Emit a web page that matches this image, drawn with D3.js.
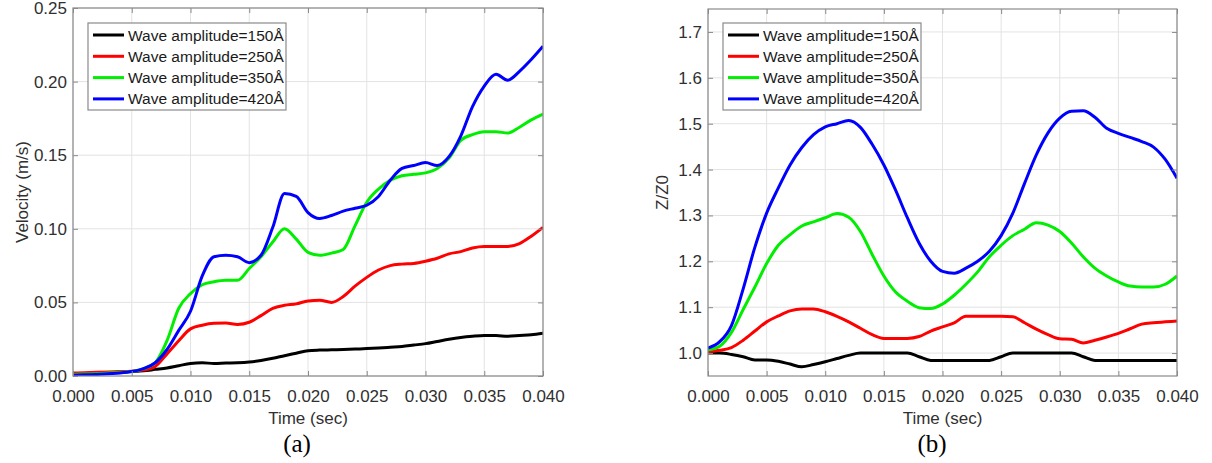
<!DOCTYPE html>
<html>
<head>
<meta charset="utf-8">
<script src="https://cdn.jsdelivr.net/npm/d3@7"></script>
<style>
  body { margin: 0; background: #fff; }
  text { font-family: Arial, "Liberation Sans", sans-serif; }
</style>
</head>
<body>
<svg id="chart" width="1212" height="463"></svg>
<script>
// time axis (sec), shared by both panels
const time = [0.000, 0.001, 0.002, 0.003, 0.004, 0.005, 0.006, 0.007, 0.008, 0.009,
              0.010, 0.011, 0.012, 0.013, 0.014, 0.015, 0.016, 0.017, 0.018, 0.019,
              0.020, 0.021, 0.022, 0.023, 0.024, 0.025, 0.026, 0.027, 0.028, 0.029,
              0.030, 0.031, 0.032, 0.033, 0.034, 0.035, 0.036, 0.037, 0.038, 0.039, 0.040];

const legendLabels = ["Wave amplitude=150Å", "Wave amplitude=250Å", "Wave amplitude=350Å", "Wave amplitude=420Å"];
const colors = ["#000000", "#ff0000", "#00ee00", "#0000ff"];

// (a) velocity (m/s)
const vel150 = [0.0015, 0.0017, 0.002, 0.0023, 0.0026, 0.003, 0.0035, 0.0045, 0.0055, 0.007,
                0.0085, 0.009, 0.0085, 0.0088, 0.009, 0.0095, 0.0105, 0.012, 0.0138, 0.0155,
                0.0172, 0.0176, 0.0178, 0.018, 0.0183, 0.0186, 0.019, 0.0195, 0.020, 0.021,
                0.022, 0.0235, 0.025, 0.0262, 0.027, 0.0275, 0.0275, 0.027, 0.0275, 0.028, 0.029];
const vel250 = [0.002, 0.0022, 0.0025, 0.0028, 0.003, 0.0033, 0.004, 0.0065, 0.015, 0.024,
                0.032, 0.0345, 0.0358, 0.036, 0.035, 0.0365, 0.041, 0.046, 0.048, 0.049,
                0.051, 0.0515, 0.050, 0.054, 0.061, 0.067, 0.072, 0.075, 0.076, 0.0765,
                0.078, 0.080, 0.083, 0.0845, 0.087, 0.088, 0.088, 0.088, 0.090, 0.095, 0.101];
const vel350 = [0.001, 0.0013, 0.0016, 0.002, 0.0025, 0.003, 0.005, 0.009, 0.024, 0.046,
                0.056, 0.062, 0.064, 0.065, 0.065, 0.073, 0.081, 0.091, 0.100, 0.093,
                0.084, 0.082, 0.0835, 0.086, 0.102, 0.118, 0.127, 0.133, 0.136, 0.137,
                0.138, 0.141, 0.148, 0.160, 0.164, 0.166, 0.166, 0.165, 0.169, 0.174, 0.178];
const vel420 = [0.0005, 0.0008, 0.001, 0.0015, 0.002, 0.003, 0.005, 0.009, 0.018, 0.031,
                0.044, 0.068, 0.081, 0.082, 0.081, 0.077, 0.082, 0.101, 0.124, 0.122,
                0.111, 0.107, 0.109, 0.112, 0.114, 0.116, 0.122, 0.133, 0.141, 0.143,
                0.145, 0.143, 0.149, 0.163, 0.183, 0.197, 0.205, 0.201, 0.207, 0.215, 0.224];

// (b) Z/Z0
const z150 = [1.000, 1.000, 0.997, 0.992, 0.985, 0.985, 0.982, 0.976, 0.970, 0.975,
              0.981, 0.988, 0.995, 1.000, 1.000, 1.000, 1.000, 1.000, 0.992, 0.984,
              0.984, 0.984, 0.984, 0.984, 0.984, 0.992, 1.000, 1.000, 1.000, 1.000,
              1.000, 1.000, 0.992, 0.984, 0.984, 0.984, 0.984, 0.984, 0.984, 0.984, 0.984];
const z250 = [1.003, 1.006, 1.012, 1.028, 1.048, 1.068, 1.081, 1.092, 1.096, 1.096,
              1.090, 1.080, 1.068, 1.054, 1.040, 1.032, 1.032, 1.032, 1.036, 1.048,
              1.057, 1.066, 1.080, 1.080, 1.080, 1.080, 1.079, 1.066, 1.052, 1.040,
              1.031, 1.030, 1.022, 1.028, 1.035, 1.043, 1.053, 1.063, 1.066, 1.068, 1.070];
const z350 = [1.007, 1.015, 1.045, 1.095, 1.144, 1.195, 1.235, 1.258, 1.277, 1.286,
              1.295, 1.304, 1.296, 1.265, 1.215, 1.168, 1.133, 1.113, 1.099, 1.097,
              1.107, 1.126, 1.150, 1.177, 1.210, 1.235, 1.256, 1.270, 1.284, 1.279,
              1.265, 1.240, 1.210, 1.185, 1.168, 1.155, 1.146, 1.144, 1.144, 1.150, 1.168];
const z420 = [1.011, 1.025, 1.060, 1.140, 1.231, 1.305, 1.360, 1.410, 1.448, 1.476,
              1.493, 1.500, 1.507, 1.492, 1.455, 1.410, 1.355, 1.295, 1.240, 1.200,
              1.178, 1.174, 1.185, 1.200, 1.222, 1.256, 1.305, 1.370, 1.432, 1.480,
              1.512, 1.527, 1.528, 1.514, 1.490, 1.479, 1.470, 1.461, 1.449, 1.422, 1.381];

const xTicks = [0, 0.005, 0.01, 0.015, 0.02, 0.025, 0.03, 0.035, 0.04];
const velTicks = [0, 0.05, 0.10, 0.15, 0.20, 0.25];
const zTicks = [1.0, 1.1, 1.2, 1.3, 1.4, 1.5, 1.6, 1.7];

const svg = d3.select("#chart");
const axisColor = "#8a8a8a";
const textColor = "#303030";

function drawPanel(p) {
  const x = d3.scaleLinear().domain([0, 0.04]).range([p.left, p.right]);
  const y = d3.scaleLinear().domain(p.yDomain).range([p.bottom, p.top]);
  const g = svg.append("g");
  const id = "clip" + p.tag.replace(/\W/g, "");

  g.append("clipPath").attr("id", id)
    .append("rect")
    .attr("x", p.left).attr("y", p.top)
    .attr("width", p.right - p.left).attr("height", p.bottom - p.top);

  // grid
  g.append("g").selectAll("line").data(xTicks).join("line")
    .attr("x1", d => x(d)).attr("x2", d => x(d))
    .attr("y1", p.top).attr("y2", p.bottom)
    .attr("stroke", "#e3e3e3");
  g.append("g").selectAll("line").data(p.yTicks).join("line")
    .attr("x1", p.left).attr("x2", p.right)
    .attr("y1", d => y(d)).attr("y2", d => y(d))
    .attr("stroke", "#e3e3e3");

  // curves
  const line = d3.line()
    .x((d, i) => x(time[i]))
    .y(d => y(d))
    .curve(d3.curveMonotoneX);
  g.append("g").attr("clip-path", `url(#${id})`)
    .selectAll("path").data(p.series).join("path")
    .attr("d", d => line(d))
    .attr("fill", "none")
    .attr("stroke", (d, i) => colors[i])
    .attr("stroke-width", 3)
    .attr("stroke-linejoin", "round");

  // axes, MATLAB style box with inward ticks
  const styleAxis = sel => {
    sel.select(".domain").remove();
    sel.selectAll(".tick line").attr("stroke", axisColor);
    sel.selectAll(".tick text").attr("fill", textColor).style("font-size", "17px")
      .style("font-family", "Arial, 'Liberation Sans', sans-serif");
  };
  g.append("g").attr("transform", `translate(0,${p.bottom})`)
    .call(d3.axisBottom(x).tickValues(xTicks).tickFormat(d3.format(".3f"))
      .tickSizeInner(-5).tickSizeOuter(0).tickPadding(14))
    .call(styleAxis);
  g.append("g").attr("transform", `translate(0,${p.top})`)
    .call(d3.axisTop(x).tickValues(xTicks).tickFormat("").tickSizeInner(-5).tickSizeOuter(0))
    .call(styleAxis);
  g.append("g").attr("transform", `translate(${p.left},0)`)
    .call(d3.axisLeft(y).tickValues(p.yTicks).tickFormat(d3.format(p.yFormat))
      .tickSizeInner(-5).tickSizeOuter(0).tickPadding(6))
    .call(styleAxis);
  g.append("g").attr("transform", `translate(${p.right},0)`)
    .call(d3.axisRight(y).tickValues(p.yTicks).tickFormat("").tickSizeInner(-5).tickSizeOuter(0))
    .call(styleAxis);

  g.append("rect")
    .attr("x", p.left).attr("y", p.top)
    .attr("width", p.right - p.left).attr("height", p.bottom - p.top)
    .attr("fill", "none").attr("stroke", axisColor).attr("stroke-width", 1.2);

  // labels
  g.append("text")
    .attr("x", (p.left + p.right) / 2).attr("y", 424)
    .attr("text-anchor", "middle").attr("fill", textColor)
    .style("font-size", "17px").text("Time (sec)");
  g.append("text")
    .attr("transform", `translate(${p.yLabelX},${(p.top + p.bottom) / 2}) rotate(-90)`)
    .attr("dy", "0.35em").attr("text-anchor", "middle").attr("fill", textColor)
    .style("font-size", "17px").text(p.yLabel);
  g.append("text")
    .attr("x", p.tagX).attr("y", 452)
    .attr("text-anchor", "middle").attr("fill", "#000")
    .style("font-family", "'Times New Roman', 'Liberation Serif', serif")
    .style("font-size", "25px").text(p.tag);

  // legend
  const lg = g.append("g").attr("transform", `translate(${p.left + 15},23)`);
  lg.append("rect")
    .attr("width", 198).attr("height", 87)
    .attr("fill", "#fff").attr("stroke", axisColor).attr("stroke-width", 1.2);
  const item = lg.selectAll("g.item").data(legendLabels).join("g")
    .attr("class", "item")
    .attr("transform", (d, i) => `translate(0,${12 + i * 21.3})`);
  item.append("line")
    .attr("x1", 5).attr("x2", 36)
    .attr("stroke", (d, i) => colors[i]).attr("stroke-width", 3);
  item.append("text")
    .attr("x", 40).attr("dy", "0.36em").attr("fill", "#1a1a1a")
    .style("font-size", "15.5px").text(d => d);
}

drawPanel({
  left: 73, right: 543, top: 8, bottom: 376,
  yDomain: [0, 0.25], yTicks: velTicks, yFormat: ".2f",
  yLabel: "Velocity (m/s)", yLabelX: 22,
  series: [vel150, vel250, vel350, vel420],
  tag: "(a)", tagX: 297
});

drawPanel({
  left: 708, right: 1177, top: 9, bottom: 376,
  yDomain: [0.95, 1.75], yTicks: zTicks, yFormat: ".1f",
  yLabel: "Z/Z0", yLabelX: 662,
  series: [z150, z250, z350, z420],
  tag: "(b)", tagX: 932
});
</script>
</body>
</html>
